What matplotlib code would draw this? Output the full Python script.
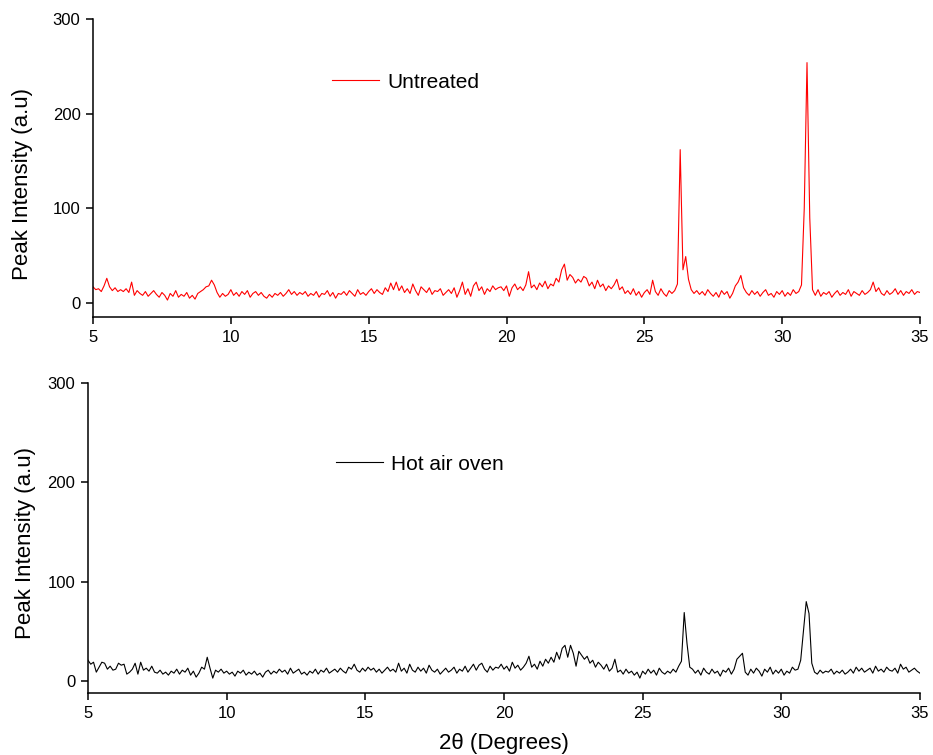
import numpy as np
import matplotlib
matplotlib.use("Agg")
from matplotlib import pyplot as plt

plt.rcParams['font.family'] = ['Liberation Sans', 'DejaVu Sans']

# -- Data (0.1 deg steps) --
two_theta = np.round(np.arange(5.0, 35.0001, 0.1), 1)

untreated = [
    17, 14, 15, 12, 18, 26, 17, 13, 16, 12,   # 5
    14, 12, 15, 11, 22, 8, 13, 10, 8, 12,     # 6
    7, 10, 13, 9, 6, 11, 8, 3, 10, 7,         # 7
    13, 6, 9, 7, 11, 5, 8, 4, 10, 12,         # 8
    14, 17, 18, 24, 19, 11, 6, 10, 7, 9,      # 9
    14, 8, 11, 7, 12, 9, 13, 6, 10, 12,       # 10
    8, 11, 7, 5, 9, 6, 10, 8, 11, 7,          # 11
    10, 14, 9, 12, 8, 11, 9, 12, 7, 10,       # 12
    8, 12, 6, 10, 9, 13, 7, 11, 5, 10,        # 13
    9, 12, 8, 13, 10, 7, 14, 9, 11, 8,        # 14
    12, 15, 10, 14, 11, 9, 16, 12, 21, 14,    # 15
    22, 13, 18, 11, 15, 10, 20, 13, 8, 17,    # 16
    14, 11, 16, 9, 13, 12, 15, 8, 11, 14,     # 17
    10, 16, 6, 13, 22, 9, 15, 7, 18, 22,      # 18
    13, 17, 9, 15, 12, 18, 14, 16, 17, 13,    # 19
    18, 7, 16, 20, 14, 17, 13, 19, 33, 16,    # 20
    19, 14, 21, 17, 23, 15, 20, 18, 26, 22,   # 21
    35, 41, 24, 30, 27, 21, 25, 22, 28, 26,   # 22
    18, 22, 15, 24, 17, 20, 13, 18, 15, 19,   # 23
    25, 14, 17, 10, 13, 9, 15, 8, 12, 6,      # 24
    11, 14, 9, 24, 12, 8, 15, 10, 7, 13,      # 25
    10, 13, 20, 162, 35, 49, 25, 14, 10, 13,  # 26
    9, 12, 8, 14, 10, 7, 11, 6, 13, 9,        # 27
    12, 5, 10, 18, 22, 29, 16, 11, 8, 13,     # 28
    9, 12, 7, 11, 14, 8, 10, 6, 12, 9,        # 29
    13, 7, 11, 8, 14, 10, 12, 19, 100, 254,   # 30
    90, 14, 8, 14, 7, 11, 9, 12, 6, 10,       # 31
    13, 8, 11, 9, 14, 7, 12, 10, 8, 13,       # 32
    9, 11, 14, 22, 12, 16, 10, 8, 13, 9,      # 33
    11, 15, 9, 13, 8, 12, 10, 14, 9, 12,      # 34
    11,
]

hot_air_oven = [
    21, 17, 19, 9, 14, 19, 18, 12, 15, 11,    # 5
    12, 18, 16, 17, 7, 9, 12, 18, 7, 19,      # 6
    11, 13, 10, 15, 9, 8, 11, 7, 9, 6,        # 7
    10, 8, 12, 7, 11, 9, 13, 6, 10, 4,        # 8
    8, 14, 12, 24, 13, 3, 11, 9, 12, 8,       # 9
    10, 7, 9, 5, 10, 8, 11, 6, 9, 7,          # 10
    10, 6, 8, 4, 9, 11, 7, 10, 8, 12,         # 11
    9, 11, 7, 13, 8, 10, 12, 7, 9, 6,         # 12
    10, 8, 12, 7, 11, 9, 13, 8, 10, 12,       # 13
    9, 13, 10, 8, 14, 12, 17, 11, 9, 13,      # 14
    10, 14, 11, 13, 9, 12, 8, 11, 14, 10,     # 15
    12, 9, 18, 10, 13, 8, 17, 11, 9, 14,      # 16
    10, 13, 8, 16, 11, 9, 12, 7, 10, 13,      # 17
    9, 11, 14, 8, 12, 10, 15, 9, 13, 17,      # 18
    11, 16, 18, 12, 9, 15, 11, 14, 13, 17,    # 19
    12, 15, 10, 19, 13, 16, 11, 14, 18, 25,   # 20
    14, 17, 12, 20, 15, 22, 18, 24, 19, 29,   # 21
    22, 33, 36, 24, 36, 28, 15, 30, 26, 22,   # 22
    25, 18, 21, 14, 19, 16, 12, 17, 10, 13,   # 23
    22, 9, 11, 7, 12, 8, 10, 6, 9, 3,         # 24
    10, 7, 12, 8, 11, 6, 13, 9, 7, 10,        # 25
    8, 12, 9, 15, 20, 69, 38, 14, 12, 8,      # 26
    11, 6, 13, 9, 7, 12, 8, 10, 5, 11,        # 27
    9, 13, 7, 12, 22, 25, 28, 9, 6, 12,       # 28
    8, 13, 10, 5, 12, 9, 14, 7, 11, 8,        # 29
    12, 6, 10, 8, 14, 11, 12, 21, 50, 80,     # 30
    68, 18, 9, 7, 11, 8, 10, 9, 12, 7,        # 31
    10, 8, 11, 7, 9, 12, 8, 14, 10, 13,       # 32
    9, 11, 13, 8, 15, 10, 12, 9, 14, 11,      # 33
    10, 13, 8, 17, 12, 14, 9, 11, 13, 10,     # 34
    8,
]

x_ticks = [5, 10, 15, 20, 25, 30, 35]
y_ticks = [0, 100, 200, 300]


def style_axes(ax, ymin):
    ax.set_xlim(5, 35)
    ax.set_ylim(ymin, 300)
    ax.set_xticks(x_ticks)
    ax.set_yticks(y_ticks)
    for side in ['top', 'right']:
        ax.spines[side].set_visible(False)
    for side in ['left', 'bottom']:
        ax.spines[side].set_linewidth(1.1)
    ax.tick_params(direction='out', length=5, width=1.1, labelsize=12, pad=4)


fig = plt.figure(figsize=(9.33, 7.55), dpi=100)

# top panel
ax1 = fig.add_axes([0.0997, 0.580, 0.8864, 0.3947])
ax1.plot(two_theta, untreated, color='#ff0000', lw=0.8, label='Untreated')
style_axes(ax1, -15)
ax1.set_ylabel('Peak Intensity (a.u)', fontsize=16)
ax1.yaxis.set_label_coords(-0.073, 0.446)
ax1.legend(frameon=False, fontsize=15, loc='center left', borderpad=0, borderaxespad=0,
           handlelength=2.26, handletextpad=0.38,
           bbox_to_anchor=(332/933, 1-82/755), bbox_transform=fig.transFigure)

# bottom panel
ax2 = fig.add_axes([0.0943, 0.0821, 0.8917, 0.4106])
ax2.plot(two_theta, hot_air_oven, color='black', lw=0.8, label='Hot air oven')
style_axes(ax2, -12)
ax2.set_ylabel('Peak Intensity (a.u)', fontsize=16)
ax2.yaxis.set_label_coords(-0.063, 0.484)
ax2.set_xlabel('2θ (Degrees)', fontsize=16, labelpad=9)
ax2.legend(frameon=False, fontsize=15, loc='center left', borderpad=0, borderaxespad=0,
           handlelength=2.26, handletextpad=0.38,
           bbox_to_anchor=(336/933, 1-464/755), bbox_transform=fig.transFigure)

fig.savefig('out.png', dpi=100)
